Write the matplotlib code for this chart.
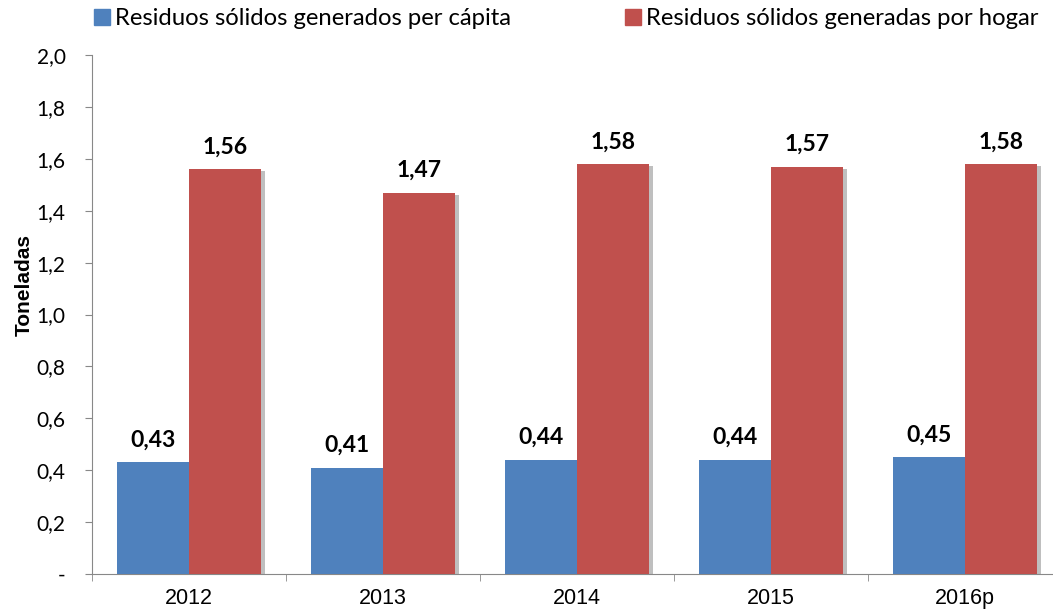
import matplotlib.pyplot as plt
import matplotlib.patheffects as pe
from matplotlib.patches import Patch
import numpy as np

years = ["2012", "2013", "2014", "2015", "2016p"]
per_capita = [0.43, 0.41, 0.44, 0.44, 0.45]
por_hogar = [1.56, 1.47, 1.58, 1.57, 1.58]
labels_capita = ["0,43", "0,41", "0,44", "0,44", "0,45"]
labels_hogar = ["1,56", "1,47", "1,58", "1,57", "1,58"]
yticks = [0, 0.2, 0.4, 0.6, 0.8, 1.0, 1.2, 1.4, 1.6, 1.8, 2.0]
ytick_labels = ["-", "0,2", "0,4", "0,6", "0,8", "1,0", "1,2", "1,4", "1,6", "1,8", "2,0"]

blue = "#4F81BD"
red = "#C0504D"
calibri = ["Lato", "DejaVu Sans"]
arial = "Liberation Sans"

fig = plt.figure(figsize=(10.53, 6.11), dpi=100)
ax = fig.add_axes([92 / 1053, 1 - 574 / 611, 970 / 1053, (574 - 55) / 611])

x = np.arange(len(years))
w = 0.372
shadow = [pe.SimplePatchShadow(offset=(2.5, -1.5), shadow_rgbFace="#808080", alpha=0.5), pe.Normal()]
b1 = ax.bar(x - w / 2, per_capita, w, color=blue, path_effects=shadow, zorder=3)
b2 = ax.bar(x + w / 2, por_hogar, w, color=red, path_effects=shadow, zorder=3)

for i in range(len(years)):
    ax.text(x[i] - w / 2, per_capita[i] + 0.045, labels_capita[i], ha="center", va="bottom",
            fontsize=16.5, fontweight="bold", family=calibri)
    ax.text(x[i] + w / 2, por_hogar[i] + 0.045, labels_hogar[i], ha="center", va="bottom",
            fontsize=16.5, fontweight="bold", family=calibri)

ax.set_xlim(-0.5, len(years) - 0.5)
ax.set_ylim(0, 2.0)
ax.set_yticks(yticks)
ax.set_yticklabels(ytick_labels, fontsize=15, family=calibri)
ax.set_xticks(x)
ax.set_xticklabels(years, fontsize=15.5, family=arial)
ax.set_xticks(np.arange(-0.5, len(years), 1), minor=True)
ax.tick_params(axis="x", which="major", length=0, pad=10)
ax.tick_params(axis="x", which="minor", length=5, color="#888888", direction="out")
ax.tick_params(axis="y", length=5, color="#888888", direction="out", pad=14)

for s in ["top", "right"]:
    ax.spines[s].set_visible(False)
for s in ["left", "bottom"]:
    ax.spines[s].set_color("#888888")

ax.set_ylabel("Toneladas", fontsize=15, fontweight="bold", family=arial, va="center")
ax.yaxis.set_label_coords((24 - 92) / 970, (574 - 285) / 519)

handles = [Patch(color=blue, label="Residuos sólidos generados per cápita"),
           Patch(color=red, label="Residuos sólidos generadas por hogar")]
fig.legend(handles=handles, loc="upper left", bbox_to_anchor=(80 / 1053, 1.01), ncol=2,
           frameon=False, prop={"family": calibri, "size": 17.2}, handlelength=0.65,
           handleheight=0.65, handletextpad=0.2, columnspacing=4.8, borderaxespad=0.2)

fig.savefig("out.png", dpi=100)
